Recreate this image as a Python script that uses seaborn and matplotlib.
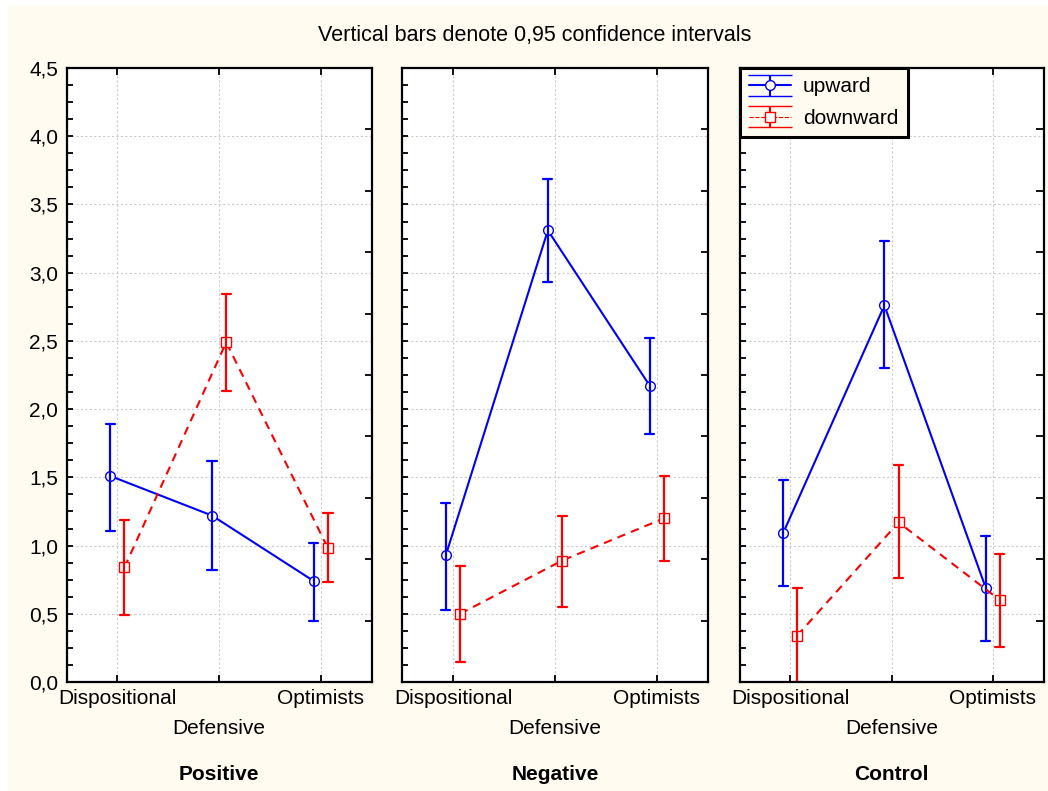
import numpy as np
import pandas as pd
import matplotlib
matplotlib.use("Agg")
import matplotlib.pyplot as plt
import seaborn as sns
from matplotlib.ticker import MultipleLocator, FixedLocator, FuncFormatter
from matplotlib.patches import Rectangle

# ---------------- data ----------------
groups = ["Positive", "Negative", "Control"]
categories = ["Dispositional", "Defensive", "Optimists"]
directions = ["upward", "downward"]

pos_up_mean = [1.51, 1.22, 0.74]
pos_up_lo = [1.11, 0.82, 0.45]
pos_up_hi = [1.89, 1.62, 1.02]
pos_down_mean = [0.84, 2.49, 0.98]
pos_down_lo = [0.49, 2.13, 0.73]
pos_down_hi = [1.19, 2.84, 1.24]

neg_up_mean = [0.93, 3.31, 2.17]
neg_up_lo = [0.53, 2.93, 1.82]
neg_up_hi = [1.31, 3.69, 2.52]
neg_down_mean = [0.50, 0.89, 1.20]
neg_down_lo = [0.15, 0.55, 0.89]
neg_down_hi = [0.85, 1.22, 1.51]

ctl_up_mean = [1.09, 2.76, 0.69]
ctl_up_lo = [0.70, 2.30, 0.30]
ctl_up_hi = [1.48, 3.23, 1.07]
ctl_down_mean = [0.34, 1.17, 0.60]
ctl_down_lo = [0.00, 0.76, 0.26]
ctl_down_hi = [0.69, 1.59, 0.94]

title = "Vertical bars denote 0,95 confidence intervals"

series = {
    ("Positive", "upward"): (pos_up_lo, pos_up_mean, pos_up_hi),
    ("Positive", "downward"): (pos_down_lo, pos_down_mean, pos_down_hi),
    ("Negative", "upward"): (neg_up_lo, neg_up_mean, neg_up_hi),
    ("Negative", "downward"): (neg_down_lo, neg_down_mean, neg_down_hi),
    ("Control", "upward"): (ctl_up_lo, ctl_up_mean, ctl_up_hi),
    ("Control", "downward"): (ctl_down_lo, ctl_down_mean, ctl_down_hi),
}

# long table: lower bound, mean and upper bound as three rows per point;
# median gives the mean and the 100% percentile interval gives the CI
rows = []
for (g, d), (lo, mu, hi) in series.items():
    for i, c in enumerate(categories):
        for v in (lo[i], mu[i], hi[i]):
            rows.append({"group": g, "direction": d, "category": c, "value": v})
df = pd.DataFrame(rows)

# ---------------- style ----------------
sns.set_style("white")
plt.rcParams["font.family"] = ["Liberation Sans", "DejaVu Sans"]
plt.rcParams["text.color"] = "black"
plt.rcParams["xtick.color"] = "black"
plt.rcParams["ytick.color"] = "black"
plt.rcParams["xtick.labelcolor"] = "black"
plt.rcParams["ytick.labelcolor"] = "black"
FS = 15
cream = "#fffbf0"
palette = {"upward": "#0000ff", "downward": "#ff0000"}

W, H = 1048, 791
fig = plt.figure(figsize=(W / 100, H / 100), dpi=100, facecolor="white")
fig.patches.append(Rectangle((8 / W, -0.01), 1, 1.01 - 6 / H, transform=fig.transFigure,
                             facecolor=cream, edgecolor="none", zorder=-10))

panels_px = [(66.5, 371.7), (402, 708), (739.5, 1043.5)]
top_px, bot_px = 68, 682

comma = FuncFormatter(lambda v, p: f"{v:.1f}".replace(".", ","))

for k, g in enumerate(groups):
    l, r = panels_px[k]
    ax = fig.add_axes([l / W, 1 - bot_px / H, (r - l) / W, (bot_px - top_px) / H])
    ax.set_facecolor("white")
    sub = df[df["group"] == g]
    sns.pointplot(data=sub, x="category", y="value", hue="direction",
                  order=categories, hue_order=directions, palette=palette,
                  estimator="median", errorbar=("pi", 100), dodge=0.14,
                  markers=["o", "s"], linestyles=["-", (0, (4, 3))],
                  capsize=0.09, err_kws={"linestyle": "-", "linewidth": 1.6},
                  linewidth=1.5, markersize=7, markerfacecolor="white",
                  markeredgewidth=1.0, legend=False, ax=ax)

    ax.set_xlim(-0.5, 2.5)
    ax.set_ylim(0, 4.5)
    ax.set_xlabel("")
    ax.set_ylabel("")

    # x ticks: staggered labels (middle one lower)
    ax.xaxis.set_major_locator(FixedLocator([0, 2]))
    ax.xaxis.set_minor_locator(FixedLocator([1]))
    ax.set_xticklabels([categories[0], categories[2]])
    ax.xaxis.set_minor_formatter(FuncFormatter(lambda v, p: categories[1]))
    ax.tick_params(axis="x", which="major", direction="in", length=5, width=1.3,
                   top=True, bottom=True, labelsize=FS, pad=5)
    ax.tick_params(axis="x", which="minor", direction="in", length=5, width=1.3,
                   top=True, bottom=True, labelsize=FS, pad=27)

    ax.yaxis.set_major_locator(MultipleLocator(0.5))
    ax.yaxis.set_minor_locator(MultipleLocator(0.125))
    ax.yaxis.set_major_formatter(comma)
    ax.tick_params(axis="y", which="both", direction="in", length=4, width=1.3,
                   left=True, right=False, labelsize=FS, pad=6)
    if k > 0:
        ax.tick_params(axis="y", labelleft=False)

    ax.grid(True, which="major", axis="y", color="#cccccc", linestyle=(0, (2, 2)), linewidth=0.8)
    ax.grid(True, which="both", axis="x", color="#cccccc", linestyle=(0, (2, 2)), linewidth=0.8)
    ax.set_axisbelow(True)
    for s in ax.spines.values():
        s.set_visible(True)
        s.set_linewidth(1.6)
        s.set_color("black")

    # right-side ticks (ten divisions)
    tw = ax.twinx()
    tw.set_ylim(0, 4.5)
    tw.yaxis.set_major_locator(FixedLocator(np.linspace(0, 4.5, 11)))
    tw.tick_params(axis="y", direction="in", length=5, width=1.3, labelright=False)
    for s in tw.spines.values():
        s.set_visible(False)

    fig.text((l + r) / 2 / W, 1 - 775 / H, g, ha="center", va="center",
             fontsize=FS, fontweight="bold")

    if k == 2:
        hs = []
        for d, ls in zip(directions, ["-", "--"]):
            h = ax.errorbar([np.nan], [np.nan], yerr=[[np.nan], [np.nan]],
                            color=palette[d], marker="o" if d == "upward" else "s",
                            mfc="white", mec=palette[d], ms=7,
                            lw=1.5 if d == "upward" else 0.8,
                            ls=ls, capsize=16, elinewidth=1.5, label=d)
            hs.append(h)
        leg = ax.legend(handles=hs, labels=directions, loc="upper left",
                        bbox_to_anchor=(0.0, 1.0), borderaxespad=0.0,
                        fontsize=FS, frameon=True, fancybox=False,
                        handlelength=2.0, handletextpad=0.6, labelspacing=0.6,
                        borderpad=0.45)
        fr = leg.get_frame()
        fr.set_facecolor(cream)
        fr.set_edgecolor("black")
        fr.set_linewidth(2.2)
        fr.set_alpha(1)
        leg.set_zorder(20)

fig.text(535 / W, 1 - 35 / H, title, ha="center", va="center", fontsize=15.5)

fig.savefig("out.png", dpi=100, facecolor=fig.get_facecolor())
